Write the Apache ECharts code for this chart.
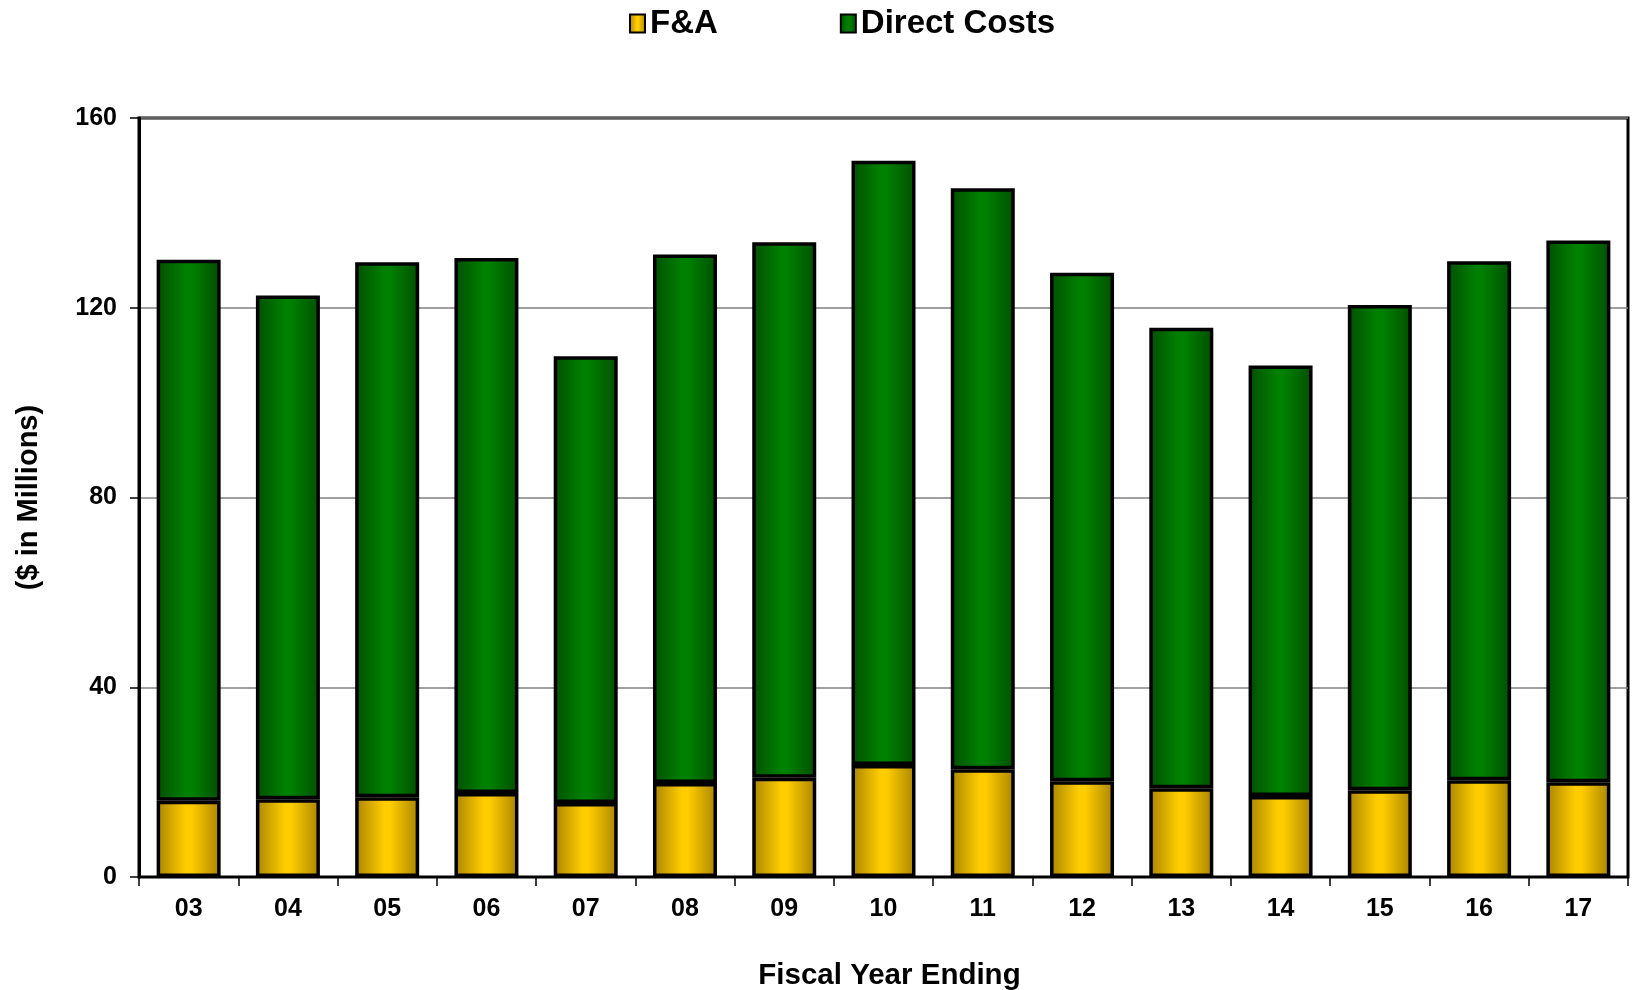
<!DOCTYPE html>
<html>
<head>
<meta charset="utf-8">
<script src="https://cdn.jsdelivr.net/npm/echarts@6/dist/echarts.min.js"></script>
<style>
html,body{margin:0;padding:0;background:#fff;}
#c{width:1635px;height:990px;}
</style>
</head>
<body>
<div id="c"></div>
<script>
var categories = ['03','04','05','06','07','08','09','10','11','12','13','14','15','16','17'];
var faValues = [16.1, 16.4, 16.8, 17.7, 15.6, 19.8, 20.9, 23.6, 22.7, 20.2, 18.7, 17.1, 18.3, 20.4, 20.0];
var directValues = [114.0, 106.2, 112.8, 112.8, 94.2, 111.4, 112.9, 127.4, 122.5, 107.2, 97.1, 90.7, 102.3, 109.4, 114.2];
var yTicks = [0, 40, 80, 120, 160];

var FONT = 'Liberation Sans, Arial, sans-serif';

function hGrad(edge, mid) {
  return new echarts.graphic.LinearGradient(0, 0, 1, 0, [
    {offset: 0, color: edge},
    {offset: 0.45, color: mid},
    {offset: 0.55, color: mid},
    {offset: 1, color: edge}
  ]);
}

var chart = echarts.init(document.getElementById('c'));
chart.setOption({
  animation: false,
  backgroundColor: '#fff',
  legend: {
    left: 624,
    top: 2,
    icon: 'rect',
    itemWidth: 15,
    itemHeight: 18,
    itemGap: 122,
    textStyle: {fontFamily: FONT, fontWeight: 'bold', fontSize: 33, color: '#000'},
    data: ['F&A', 'Direct Costs']
  },
  grid: {
    left: 139, right: 7, top: 118, bottom: 113,
    outerBoundsMode: 'none',
    containLabel: false,
    show: true, borderColor: '#000', borderWidth: 3, backgroundColor: 'transparent'
  },
  xAxis: {
    type: 'category',
    data: categories,
    name: 'Fiscal Year Ending',
    nameLocation: 'middle',
    nameGap: 84,
    nameTextStyle: {fontFamily: FONT, fontWeight: 'bold', fontSize: 29.5, color: '#000', padding: [0, 0, 0, 12]},
    axisLine: {lineStyle: {color: '#000', width: 2}},
    axisTick: {show: true, alignWithLabel: false, length: 9, lineStyle: {color: '#000', width: 1.5}},
    axisLabel: {margin: 20, fontFamily: FONT, fontWeight: 'bold', fontSize: 25, color: '#000'}
  },
  yAxis: {
    type: 'value',
    min: yTicks[0],
    max: yTicks[yTicks.length - 1],
    interval: 40,
    name: '($ in Millions)',
    nameLocation: 'middle',
    nameGap: 96,
    nameTextStyle: {fontFamily: FONT, fontWeight: 'bold', fontSize: 29, color: '#000'},
    axisLine: {show: true, lineStyle: {color: '#000', width: 3}},
    axisTick: {show: true, length: 9, lineStyle: {color: '#000', width: 1.5}},
    axisLabel: {margin: 22, fontFamily: FONT, fontWeight: 'bold', fontSize: 25, color: '#000'},
    splitLine: {show: true, lineStyle: {color: '#808080', width: 1.5}}
  },
  series: [
    {
      name: 'F&A',
      type: 'bar',
      stack: 'total',
      barWidth: 64,
      data: faValues,
      itemStyle: {color: hGrad('#a88400', '#ffcc00'), borderColor: '#000', borderWidth: 3.5}
    },
    {
      name: 'Direct Costs',
      type: 'bar',
      stack: 'total',
      barWidth: 64,
      data: directValues,
      itemStyle: {color: hGrad('#004f00', '#008000'), borderColor: '#000', borderWidth: 3.5}
    }
  ]
});
</script>
</body>
</html>
